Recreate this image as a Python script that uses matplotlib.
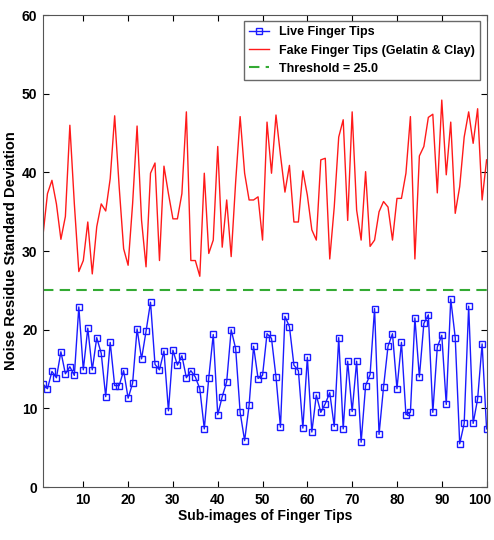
import numpy as np
import matplotlib
matplotlib.use("Agg")
import matplotlib.pyplot as plt
import matplotlib.transforms as mtransforms

# Sub-image index
sub_images = np.arange(1, 101)

# Live finger tips (blue squares)
live_tips = [
    13.1, 12.5, 14.7, 13.9, 17.2, 14.4, 15.3, 14.2, 22.9, 14.9,
    20.2, 14.9, 19.0, 17.0, 11.5, 18.4, 12.9, 12.9, 14.8, 11.3,
    13.2, 20.1, 16.3, 19.8, 23.5, 15.6, 14.9, 17.3, 9.7, 17.4,
    15.5, 16.7, 13.9, 14.8, 14.0, 12.5, 7.4, 13.9, 19.4, 9.2,
    11.5, 13.4, 20.0, 17.6, 9.5, 5.9, 10.4, 17.9, 13.8, 14.2,
    19.5, 18.9, 14.0, 7.6, 21.7, 20.4, 15.5, 14.8, 7.5, 16.5,
    7.0, 11.7, 9.5, 10.6, 12.0, 7.7, 19.0, 7.4, 16.0, 9.6,
    16.0, 5.7, 12.9, 14.3, 22.7, 6.7, 12.7, 17.9, 19.5, 12.5,
    18.4, 9.2, 9.5, 21.5, 14.0, 20.8, 21.9, 9.5, 17.8, 19.3,
    10.5, 23.9, 19.0, 5.5, 8.1, 23.0, 8.1, 11.2, 18.2, 7.4,
]

# Fake finger tips (red line)
fake_tips = [
    32.0, 37.3, 39.0, 36.0, 31.5, 34.4, 46.0, 36.0, 27.4, 28.8,
    33.7, 27.1, 33.1, 36.0, 35.1, 39.2, 47.2, 38.2, 30.3, 28.2,
    36.0, 45.9, 33.9, 28.0, 39.9, 41.2, 28.8, 40.8, 37.3, 34.1,
    34.1, 37.3, 47.7, 28.8, 28.8, 26.8, 39.9, 29.7, 31.4, 43.3,
    30.5, 36.5, 29.3, 38.8, 47.1, 39.9, 36.5, 36.5, 36.9, 31.4,
    46.4, 39.9, 47.3, 42.2, 37.5, 40.9, 33.7, 33.7, 40.2, 37.1,
    32.7, 31.4, 41.6, 41.8, 29.0, 35.6, 44.5, 46.7, 33.9, 47.7,
    35.2, 31.4, 40.1, 30.6, 31.4, 35.0, 36.3, 35.6, 31.4, 36.7,
    36.7, 39.9, 47.1, 29.0, 42.1, 43.3, 47.0, 47.4, 37.4, 49.2,
    39.7, 46.4, 34.8, 38.2, 44.5, 47.7, 43.7, 48.1, 36.5, 41.6,
]

threshold = 25.0

plt.rcParams['font.family'] = ['Liberation Sans', 'DejaVu Sans']

fig = plt.figure(figsize=(4.94, 5.40), dpi=100)
ax = fig.add_axes([0.087, 0.098, 0.898, 0.874])

ax.plot(sub_images, live_tips, color='#1a1aff', linewidth=1.0, marker='s',
        markersize=4, markerfacecolor='none', markeredgewidth=1.0,
        label='Live Finger Tips')
ax.plot(sub_images, fake_tips, color='#ff1a1a', linewidth=1.0,
        label='Fake Finger Tips (Gelatin & Clay)')
ax.axhline(threshold, color='#33aa33', linewidth=1.5, linestyle=(0, (5, 3)),
           label=f'Threshold = {threshold:.1f}')

ax.set_xlim(1, 100)
ax.set_ylim(0, 60)
ax.set_xticks(range(10, 101, 10))
ax.set_yticks(range(0, 61, 10))
ax.tick_params(direction='in', top=True, right=True, length=4, labelsize=10, pad=4)
for lbl in ax.get_xticklabels() + ax.get_yticklabels():
    lbl.set_fontweight('bold')
# nudge the "100" label so it stays inside the canvas
last = ax.get_xticklabels()[-1]
last.set_transform(last.get_transform() +
                   mtransforms.ScaledTranslation(-5 / 72, 0, fig.dpi_scale_trans))
for s in ax.spines.values():
    s.set_color('#555555')

ax.set_xlabel('Sub-images of Finger Tips', fontsize=10, fontweight='bold', labelpad=2)
ax.set_ylabel('Noise Residue Standard Deviation', fontsize=10.5, fontweight='bold', labelpad=3)

leg = ax.legend(loc='upper right', frameon=True, fancybox=False,
                borderpad=0.4, labelspacing=0.5, handlelength=1.6,
                borderaxespad=0.5, prop={'weight': 'bold', 'size': 9})
leg.get_frame().set_edgecolor('#444444')
leg.get_frame().set_linewidth(1.0)

fig.savefig('out.png', dpi=100)
